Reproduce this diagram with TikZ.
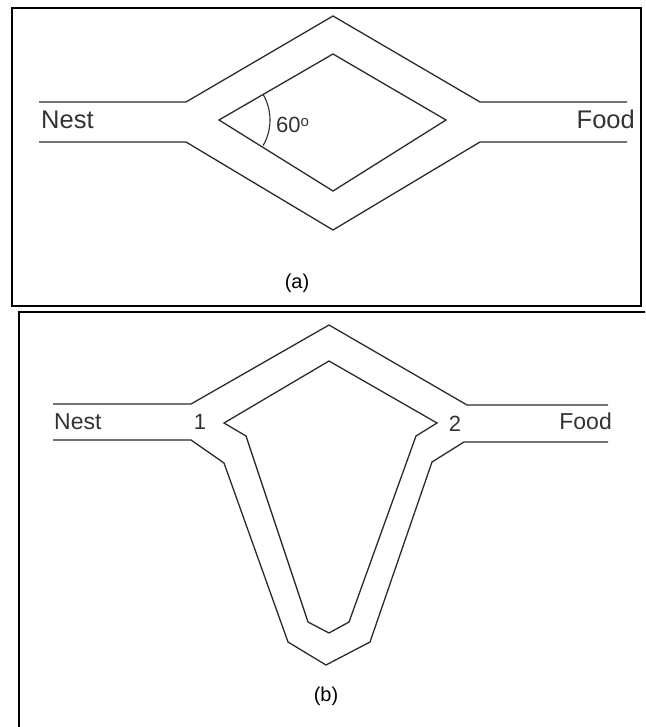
\documentclass[tikz,border=0pt]{standalone}
\usepackage{fontspec}
\setmainfont{Liberation Sans}
\definecolor{ln}{HTML}{2B2B2B}
\definecolor{tx}{HTML}{333333}
\begin{document}
\begin{tikzpicture}[x=1pt,y=-1pt,
  trail/.style={draw=ln,line width=1.3pt,line join=miter},
  boxframe/.style={draw=black,line width=2.6pt},
  lbl/.style={text=tx,inner sep=0pt,font=\fontsize{25.5}{25.5}\selectfont},
  lblb/.style={text=tx,inner sep=0pt,font=\fontsize{23}{23}\selectfont},
  digit/.style={text=tx,inner sep=0pt,font=\fontsize{22}{22}\selectfont},
  captxt/.style={text=black,inner sep=0pt,font=\fontsize{20}{20}\selectfont}]
\useasboundingbox (0,0) rectangle (645,727);
\clip (0,0) rectangle (645,727);
\fill[white] (0,0) rectangle (645,727);
% ---------- panel (a) ----------
\draw[boxframe] (12,8) rectangle (641,306);
\draw[trail] (39,102) -- (186,102) -- (333,16) -- (480,102) -- (627,102);
\draw[trail] (39,142) -- (186,142) -- (333,230) -- (480,142) -- (627,142);
\coordinate (apex) at (219,120);
\draw[trail] (apex) -- (333,54) -- (446,120) -- (333,191) -- cycle;
\draw[trail,line width=1.1pt] ([shift={(30:51pt)}]apex) arc[start angle=30,end angle=-30,radius=51pt];
\node[lbl,anchor=base west] (nestA) at (41,129) {Nest};
\node[lbl,anchor=base east] (foodA) at (635,129) {Food};
\node[digit,anchor=base west] (ang) at (276,133) {60\raisebox{6pt}{\fontsize{15}{15}\selectfont o}};
\node[captxt] (capA) at (297,283) {(a)};
% ---------- panel (b) ----------
\draw[boxframe] (19,312) rectangle (660,740);
\draw[trail] (53,404) -- (191,404) -- (329,325) -- (467,405) -- (608,405);
\draw[trail] (53,440) -- (191,440) -- (224,463) -- (288,642) -- (326,665) -- (370,642) -- (432,462) -- (464,442) -- (608,442);
\draw[trail] (224,423) -- (246,436) -- (308,622) -- (329,633) -- (349,622) -- (416,436) -- (437,423) -- (329,361) -- cycle;
\node[lblb,anchor=base west] (nestB) at (54,429) {Nest};
\node[lblb,anchor=base east] (foodB) at (612,429) {Food};
\node[digit,anchor=base] (one) at (200,429) {1};
\node[digit,anchor=base] (two) at (455,431) {2};
\node[captxt] (capB) at (326,696) {(b)};
\end{tikzpicture}
\end{document}
